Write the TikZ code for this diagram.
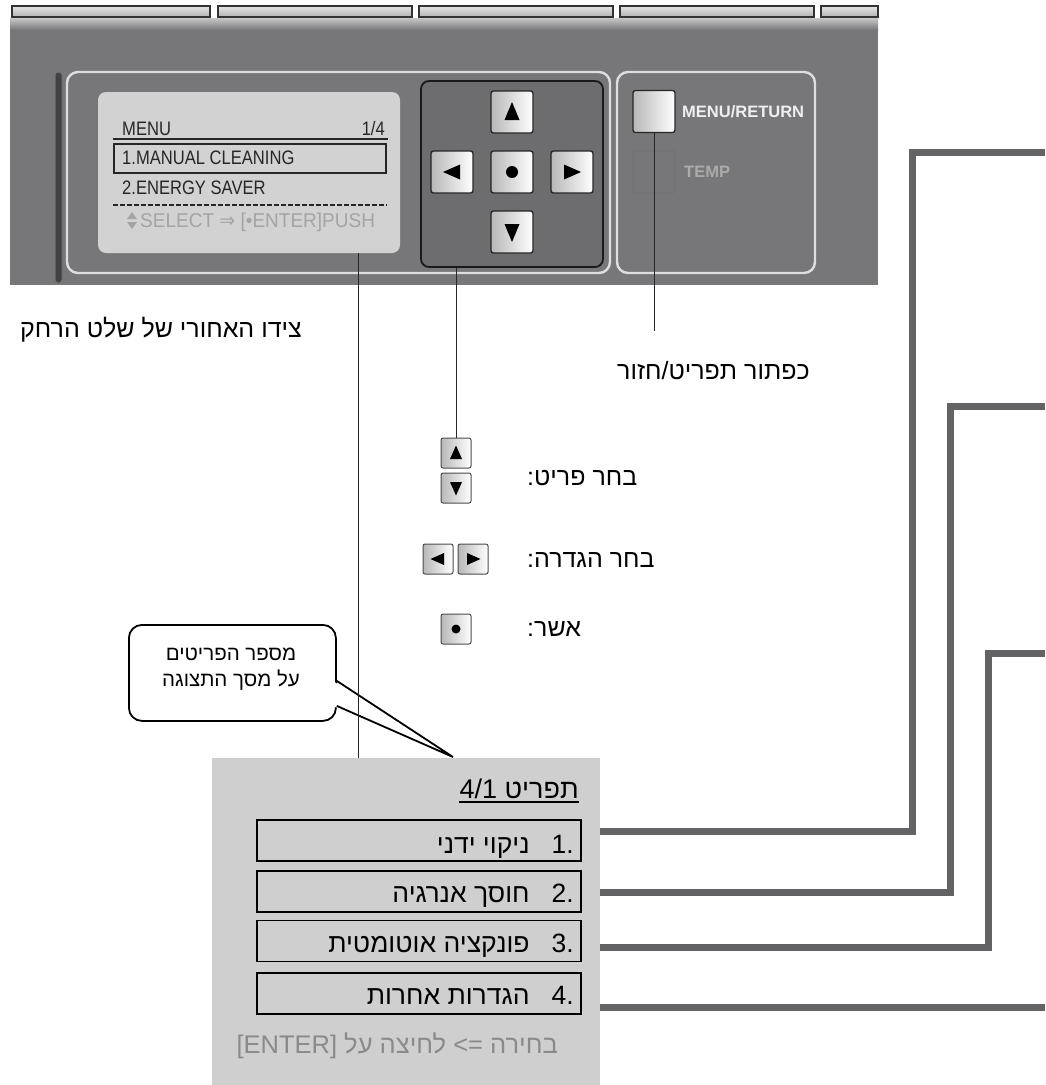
\documentclass[tikz,border=0pt]{standalone}
\usepackage{fontspec}
\setmainfont{Liberation Sans}
\newfontfamily\heb[Script=Hebrew]{Liberation Sans}
\newfontfamily\dejavu{DejaVu Sans}
\TeXXeTstate=1
\usepackage{graphicx}
\usetikzlibrary{calc}
\definecolor{panelgray}{HTML}{77777A}
\definecolor{padgray}{HTML}{6D6D70}
\definecolor{lcdgray}{HTML}{D2D2D2}
\definecolor{boxgray}{HTML}{D0CFD0}
\definecolor{conngray}{HTML}{636366}
\definecolor{rimgray}{HTML}{DEDEDE}
\definecolor{lcdfaint}{HTML}{A4A4A4}
\definecolor{footgray}{HTML}{8A8A8A}
\newcommand{\myfs}[1]{\fontsize{#1}{#1}\selectfont}
\newcommand{\narrow}[1]{\scalebox{0.85}[1]{#1}}
\begin{document}
\begin{tikzpicture}[x=1pt,y=-1pt,
  rim/.style={draw=rimgray, line width=2.4pt, rounded corners=11pt},
  key/.style={draw=black!85, line width=1.3pt, rounded corners=2.5pt, left color=black!28, right color=white, minimum width=42pt, minimum height=42pt, inner sep=0pt},
  mini/.style={draw=black!70, line width=1pt, rounded corners=2pt, left color=black!28, right color=white, minimum width=30pt, minimum height=30pt, inner sep=0pt},
  leader/.style={draw=black!85, line width=1pt},
  conn/.style={draw=conngray, line width=7pt},
  itembox/.style={draw=black, line width=1.8pt, fill=boxgray, minimum width=324pt, minimum height=41pt, inner sep=0pt},
  hebtxt/.style={font=\heb\myfs{25}, inner sep=0pt, text=black},
  itemtxt/.style={font=\heb\myfs{26.5}, inner sep=0pt, text=black},
  sidetxt/.style={font=\heb\myfs{25}, inner sep=0pt, text=black},
  lcdtxt/.style={font=\myfs{19.5}, inner sep=0pt, text=black!85},
  keytxt/.style={font=\bfseries\myfs{16.5}, inner sep=0pt},
]
\useasboundingbox (0,0) rectangle (1045,1085);
\fill[white] (0,0) rectangle (1045,1085);

% ---------- remote panel ----------
\foreach \a/\b in {12/210, 218/412, 419/613, 620/814, 821/878}
  \draw[draw=black!80, top color=black!10, bottom color=black!30, line width=1.2pt] (\a,6) rectangle (\b,17);
\shade[top color=black!22, bottom color=panelgray] (10,18) rectangle (878,30);
\fill[panelgray] (10,30) rectangle (878,285);
\draw[draw=black!55, fill=black!45!panelgray, line width=1pt, rounded corners=3pt] (55,72) rectangle (62,283);
\draw[rim] (67,72) rectangle (610,273);
\draw[rim] (617,72) rectangle (815,273);

% LCD
\node[fill=lcdgray, rounded corners=8pt, minimum width=302pt, minimum height=161pt, inner sep=0pt] (lcd) at (249,172.5) {};
\node[lcdtxt, anchor=base west] (lmenu) at (122,135) {\narrow{MENU}};
\node[lcdtxt, anchor=base east] (lpage) at (385,135) {\narrow{1/4}};
\draw[line width=2.2pt, black!85] (113,139) -- (388,139);
\draw[line width=1.5pt, black!85] (114,144) rectangle (386,173);
\node[lcdtxt, anchor=base west] (lone) at (122,164) {\narrow{1.MANUAL CLEANING}};
\node[lcdtxt, anchor=base west] (ltwo) at (122,194) {\narrow{2.ENERGY SAVER}};
\draw[line width=2.5pt, black!85, dash pattern=on 5pt off 2pt] (113,205) -- (387,205);
\fill[lcdfaint] (127,219) -- (137,219) -- (132,212) -- cycle;
\fill[lcdfaint] (127,222) -- (137,222) -- (132,229) -- cycle;
\node[lcdtxt, font=\myfs{20}, text=lcdfaint, anchor=base west] (lsel) at (140,227) {\scalebox{0.95}[1]{SELECT {\dejavu⇒} [•ENTER]PUSH}};

% D-pad
\node[fill=padgray, draw=black!90, line width=1.8pt, rounded corners=8pt, minimum width=182pt, minimum height=186pt, inner sep=0pt] (dpad) at (512,174) {};
\node[key] (kup) at (512,112) {};
\node[key] (kleft) at (452,172) {};
\node[key] (kok) at (512,172) {};
\node[key] (kright) at (572,172) {};
\node[key] (kdown) at (512,232) {};
\fill[shift={(kup.center)}] (-7.5,8) -- (7.5,8) -- (0,-10) -- cycle;
\fill[shift={(kdown.center)}] (-7.5,-8) -- (7.5,-8) -- (0,10) -- cycle;
\fill[shift={(kleft.center)}] (-9,0) -- (8,-7.5) -- (8,7.5) -- cycle;
\fill[shift={(kright.center)}] (9,0) -- (-8,-7.5) -- (-8,7.5) -- cycle;
\fill (kok.center) circle (6pt);

% menu / temp
\node[key] (kmenu) at (654,111.5) {};
\node[draw=black!55, line width=1.2pt, rounded corners=2.5pt, minimum width=42pt, minimum height=42pt, inner sep=0pt] (ktemp) at (654,172) {};
\node[keytxt, text=white!94!black, anchor=west] (tmenu) at (682,112) {MENU/RETURN};
\node[keytxt, text=black!33, anchor=west] (ttemp) at (684,172) {TEMP};

% ---------- labels ----------
\node[hebtxt, anchor=west] (backlbl) at (20,330) {\beginR צידו האחורי של שלט הרחק\endR};
\node[hebtxt, anchor=west] (menulbl) at (617,371) {\beginR כפתור תפריט/חזור\endR};

% small key icons
\node[mini] (iup) at (456,453) {};
\node[mini] (idown) at (456,488) {};
\node[mini] (ileft) at (438,559) {};
\node[mini] (iright) at (473,559) {};
\node[mini] (iok) at (456,629) {};
\fill[shift={(iup.center)}] (-6,6) -- (6,6) -- (0,-7.5) -- cycle;
\fill[shift={(idown.center)}] (-6,-6) -- (6,-6) -- (0,7.5) -- cycle;
\fill[shift={(ileft.center)}] (-7.5,0) -- (6,-6) -- (6,6) -- cycle;
\fill[shift={(iright.center)}] (7.5,0) -- (-6,-6) -- (-6,6) -- cycle;
\fill (iok.center) circle (4.5pt);

\node[sidetxt, anchor=west] (lblsel) at (527,478) {\beginR בחר פריט:\endR};
\node[sidetxt, anchor=west] (lblset) at (527,560) {\beginR בחר הגדרה:\endR};
\node[sidetxt, anchor=west] (lblok) at (527,629) {\beginR אשר:\endR};

% ---------- menu box ----------
\node[fill=boxgray, minimum width=388pt, minimum height=327pt, inner sep=0pt, anchor=north west] (menubox) at (212,758) {};
\node[itemtxt, font=\heb\myfs{27}, anchor=base east] (mtitle) at (579,798) {\beginR תפריט \beginL4/1\endL\endR};
\draw[line width=1.3pt] ([yshift=-4pt]mtitle.base west) -- ([yshift=-4pt]mtitle.base east);
\node[itembox] (item1) at (419,840.5) {};
\node[itembox] (item2) at (419,891.5) {};
\node[itembox] (item3) at (419,941) {};
\node[itembox] (item4) at (419,993.5) {};
\node[itemtxt, anchor=base east] (it1) at ($(item1.east)+(-8,12.5)$) {\beginR\beginL.1\endL\hspace{22pt}ניקוי ידני\endR};
\node[itemtxt, anchor=base east] (it2) at ($(item2.east)+(-8,11)$) {\beginR\beginL.2\endL\hspace{22pt}חוסך אנרגיה\endR};
\node[itemtxt, anchor=base east] (it3) at ($(item3.east)+(-8,11.5)$) {\beginR\beginL.3\endL\hspace{22pt}פונקציה אוטומטית\endR};
\node[itemtxt, anchor=base east] (it4) at ($(item4.east)+(-8,11)$) {\beginR\beginL.4\endL\hspace{22pt}הגדרות אחרות\endR};
\node[itemtxt, font=\heb\myfs{25.5}, text=footgray, anchor=base east] (foot) at (558,1053) {\beginR בחירה \beginL=>\endL{} לחיצה על \beginL[ENTER]\endL\endR};

% ---------- callout ----------
\node[draw=black, line width=1.8pt, fill=white, rounded corners=13pt, minimum width=207pt, minimum height=96pt, inner sep=0pt, anchor=north west] (callout) at (128,624) {};
\coordinate (ctip) at (453,757);
\fill[white] ($(callout.east)+(-4,8)$) -- (ctip) -- ($(callout.east)+(-4,33)$) -- cycle;
\draw[line width=1.8pt, line join=miter] ($(callout.east)+(0,8)$) -- (ctip) -- ($(callout.east)+(0,33)$);
\node[font=\heb\myfs{20.5}, align=center, inner sep=0pt] (ctext) at (231,669) {\beginR מספר הפריטים\endR\\[6pt]\beginR על מסך התצוגה\endR};

% ---------- leaders ----------
\coordinate (lcdtap) at ($(lcd.south)+(109,0)$);
\draw[leader] (lcdtap) -- (lcdtap |- menubox.north);
\draw[leader] (dpad.south -| iup.north) -- (iup.north);
\coordinate (menuend) at (654,331);
\draw[leader] (kmenu.south) -- (menuend);

% ---------- connectors ----------
\coordinate (v1) at (912,152);  \coordinate (e1) at (1045,152);
\coordinate (v2) at (950,406);  \coordinate (e2) at (1045,406);
\coordinate (v3) at (988,653);  \coordinate (e3) at (1045,653);
\coordinate (e4) at (1045,1007);
\draw[conn] ($(item1.east -| menubox.east)+(0,-9.5)$) -| (v1) -- (e1);
\draw[conn] ($(item2.east -| menubox.east)+(0,0.5)$) -| (v2) -- (e2);
\draw[conn] ($(item3.east -| menubox.east)+(0,6)$) -| (v3) -- (e3);
\draw[conn] ($(item4.east -| menubox.east)+(0,13.5)$) -- (e4);
\end{tikzpicture}
\end{document}
